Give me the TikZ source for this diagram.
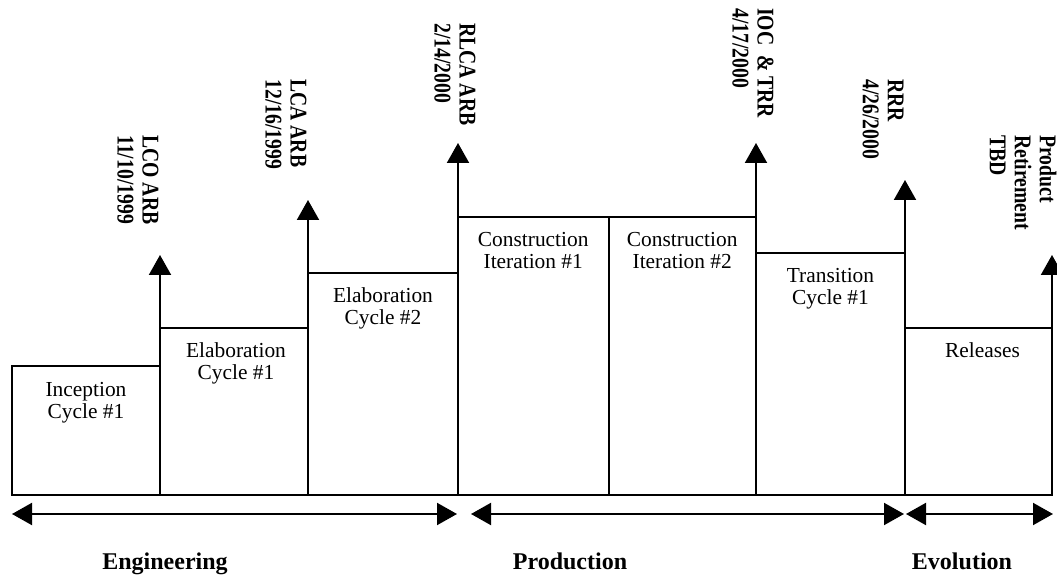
\documentclass[tikz,border=0pt]{standalone}
\usepackage{fontspec}
\setmainfont{Liberation Serif}
\usetikzlibrary{arrows.meta, fit}

\tikzset{
  phase/.style={draw, line width=1pt, inner sep=0pt, outer sep=0pt},
  phasetext/.style={font=\fontsize{10.7}{11}\selectfont, align=center, anchor=north, inner sep=0pt},
  milestone/.style={font=\fontsize{12}{12.5}\selectfont\bfseries, align=left, anchor=north west, inner sep=0pt, rotate=-90, xscale=0.82},
  period/.style={font=\fontsize{12}{14}\selectfont\bfseries, anchor=base},
  flag/.style={-{Triangle[length=10pt, width=11pt]}, line width=1pt},
  spanarrow/.style={{Triangle[length=10pt, width=11pt]}-{Triangle[length=10pt, width=11pt]}, line width=1pt}
}

\begin{document}
\begin{tikzpicture}[x=0.5pt, y=-0.5pt]
  \useasboundingbox (0, 0) rectangle (1057, 577);

  % phases
  \node[phase, fit={(12, 366) (160, 495)}] (inception) {};
  \node[phase, fit={(160, 328) (308, 495)}] (elabone) {};
  \node[phase, fit={(308, 273) (458, 495)}] (elabtwo) {};
  \node[phase, fit={(458, 217) (608.5, 495)}] (constone) {};
  \node[phase, fit={(608.5, 217) (756, 495)}] (consttwo) {};
  \node[phase, fit={(756, 253) (905, 495)}] (transone) {};
  \node[phase, fit={(905, 328) (1052, 495)}] (releases) {};

  \node[phasetext] (inceptiontext) at ([yshift=-7.5pt]inception.north) {\strut Inception\\Cycle \#1};
  \node[phasetext] (elabonetext) at ([xshift=1pt, yshift=-7pt]elabone.north) {\strut Elaboration\\Cycle \#1};
  \node[phasetext] (elabtwotext) at ([yshift=-7pt]elabtwo.north) {\strut Elaboration\\Cycle \#2};
  \node[phasetext] (constonetext) at ([yshift=-7pt]constone.north) {\strut Construction\\Iteration \#1};
  \node[phasetext] (consttwotext) at ([yshift=-7pt]consttwo.north) {\strut Construction\\Iteration \#2};
  \node[phasetext] (transonetext) at ([yshift=-7pt]transone.north) {\strut Transition\\Cycle \#1};
  \node[phasetext] (releasestext) at ([xshift=2pt, yshift=-7pt]releases.north) {\strut Releases};

  % milestones
  \coordinate (lcotip) at (160, 255);
  \coordinate (lcatip) at (308, 200);
  \coordinate (rlcatip) at (458, 143);
  \coordinate (ioctip) at (756, 143);
  \coordinate (rrrtip) at (905, 180);
  \coordinate (retiretip) at (1052, 255);

  \draw[flag] (elabone.north west) -- (lcotip);
  \draw[flag] (elabtwo.north west) -- (lcatip);
  \draw[flag] (constone.north west) -- (rlcatip);
  \draw[flag] (consttwo.north east) -- (ioctip);
  \draw[flag] (transone.north east) -- (rrrtip);
  \draw[flag] (releases.north east) -- (retiretip);

  \node[milestone] (lco) at (159, 135) {LCO ARB\\11/10/1999};
  \node[milestone] (lca) at (307, 79) {LCA ARB\\12/16/1999};
  \node[milestone] (rlca) at (476, 23) {RLCA ARB\\2/14/2000};
  \node[milestone] (ioc) at (774, 8) {IOC\ \ \& TRR\\4/17/2000};
  \node[milestone] (rrr) at (904, 79) {RRR\\4/26/2000};
  \node[milestone] (retire) at (1057, 135) {Product\\Retirement\\TBD};

  % periods
  \coordinate (engleft) at (12, 514);
  \coordinate (engright) at (457, 514);
  \coordinate (prodleft) at (471, 514);
  \coordinate (prodright) at (904, 514);
  \coordinate (evoleft) at (906, 514);
  \coordinate (evoright) at (1053, 514);

  \draw[spanarrow] (engleft) -- (engright);
  \draw[spanarrow] (prodleft) -- (prodright);
  \draw[spanarrow] (evoleft) -- (evoright);

  \node[period] (engineering) at (165, 570) {Engineering};
  \node[period] (production) at (570, 570) {Production};
  \node[period] (evolution) at (962, 570) {Evolution};
\end{tikzpicture}
\end{document}
